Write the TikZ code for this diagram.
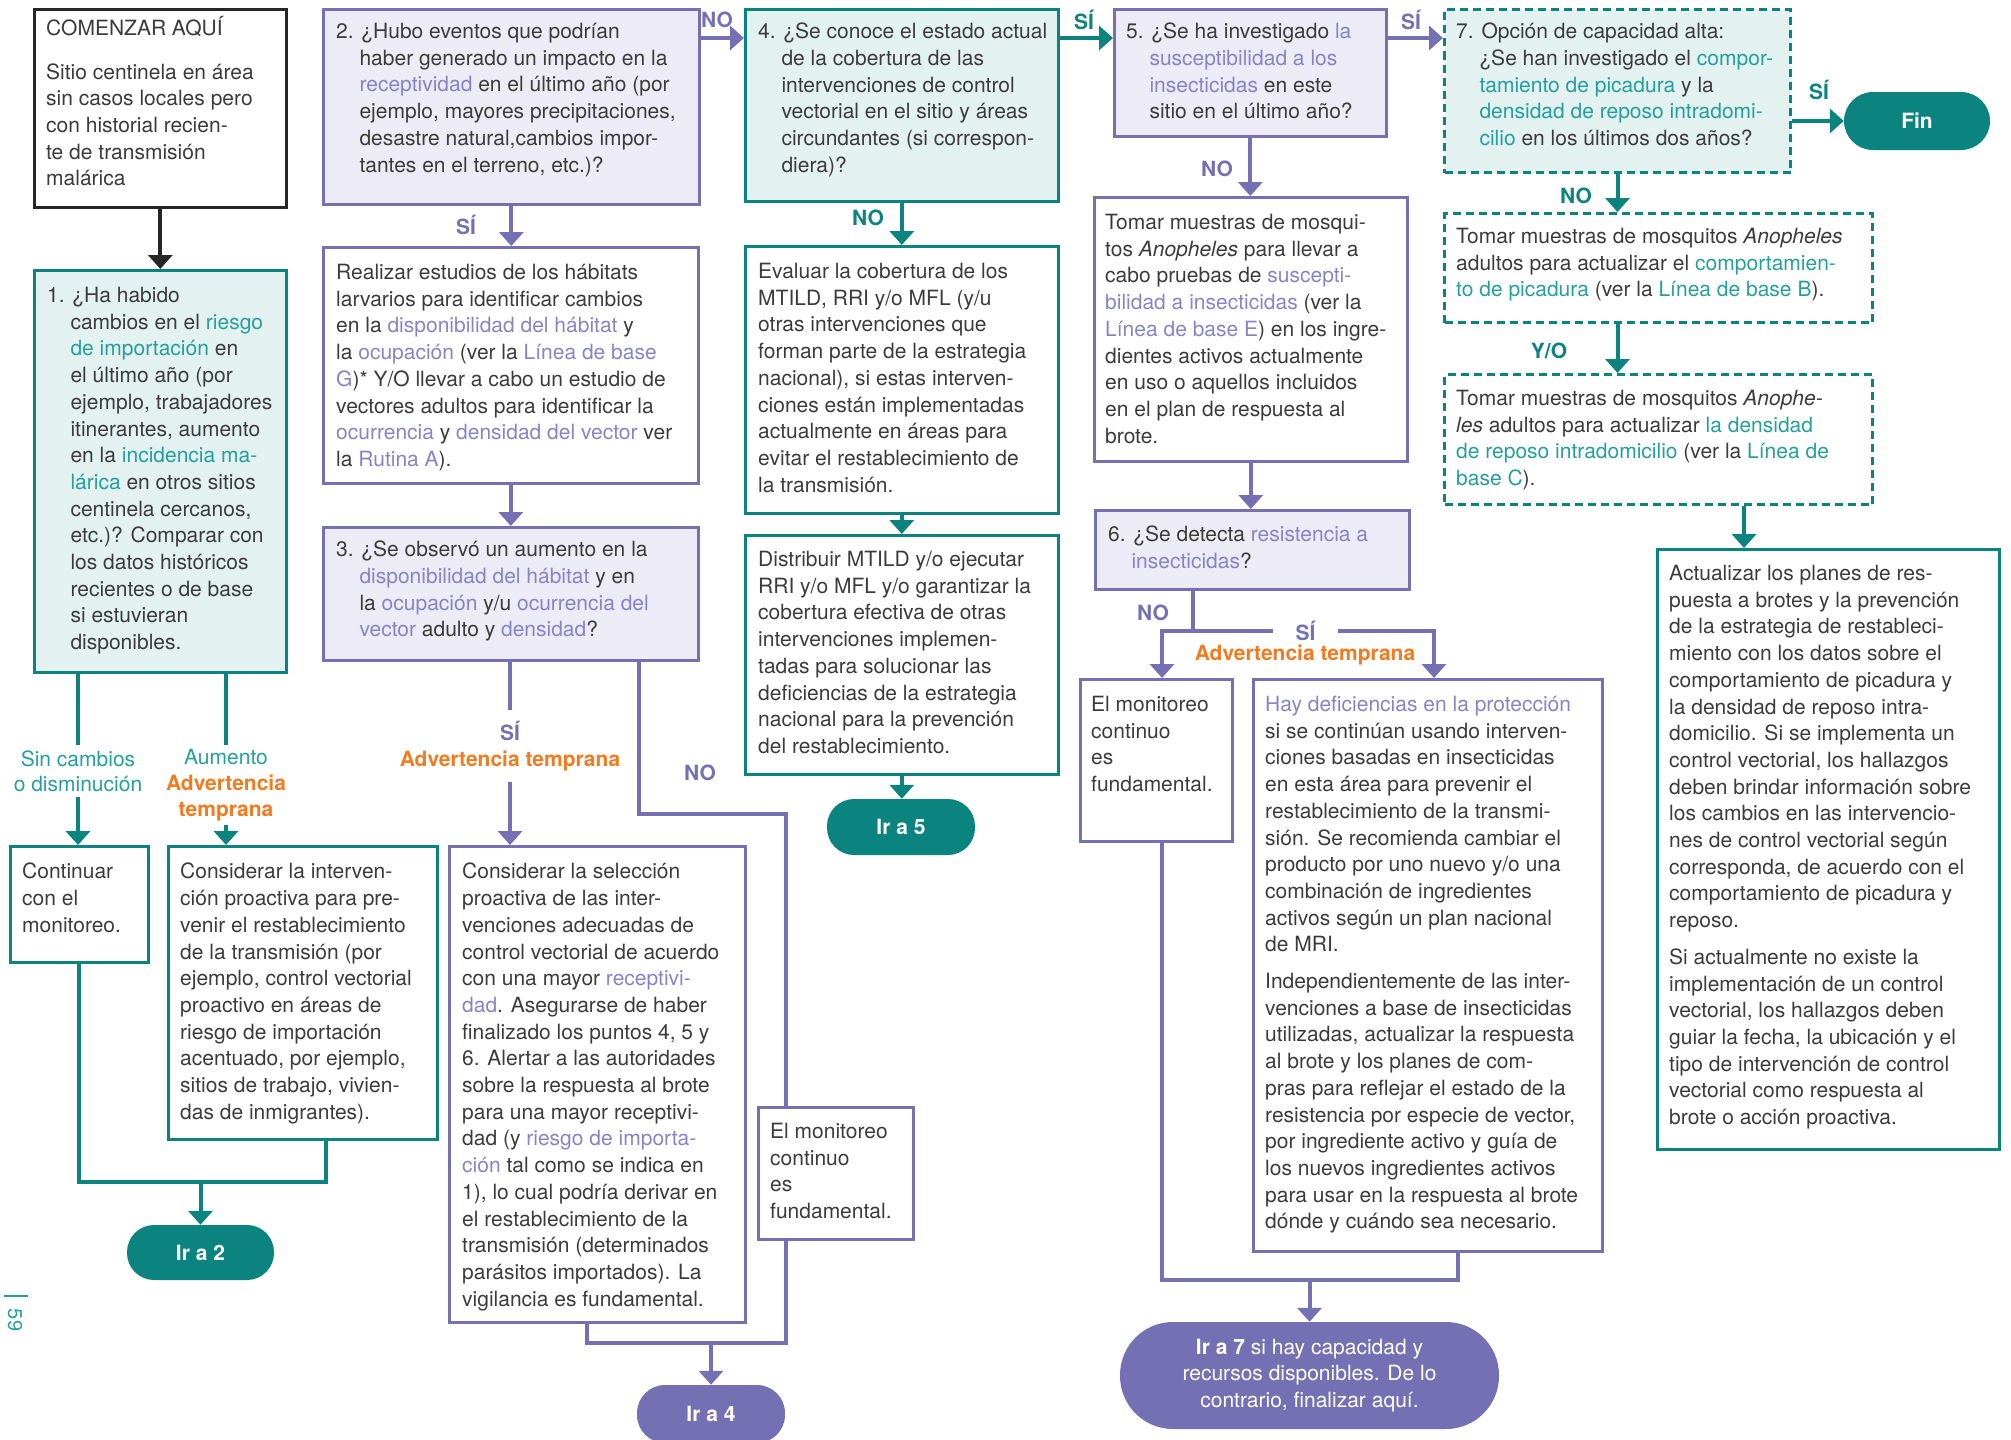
\documentclass[tikz,border=0pt]{standalone}
\usepackage{fontspec}
\setmainfont{TeX Gyre Heros}
\usetikzlibrary{arrows.meta}
\definecolor{tealc}{HTML}{0B8480}
\definecolor{tealt}{HTML}{24A09C}
\definecolor{tealfill}{HTML}{E3F1F1}
\definecolor{purc}{HTML}{7470B3}
\definecolor{purt}{HTML}{8783C6}
\definecolor{purfill}{HTML}{ECEBF6}
\definecolor{orangec}{HTML}{F37A1F}
\definecolor{txt}{HTML}{3B3B3B}
\newcommand\lkp[1]{\textcolor{purt}{#1}}
\newcommand\lkt[1]{\textcolor{tealt}{#1}}
\newcommand\qind[1]{\phantom{#1}\ }
\tikzset{
  bx/.style={draw, line width=2.6pt, anchor=north west, inner sep=0pt},
  tbx/.style={bx, draw=tealc},
  tfbx/.style={tbx, fill=tealfill},
  pbx/.style={bx, draw=purc},
  pfbx/.style={pbx, fill=purfill},
  dbx/.style={bx, draw=tealc, line width=3pt, dash pattern=on 8pt off 5pt},
  txtn/.style={anchor=north west, inner sep=0pt, align=left, text=txt, font=\fontsize{21}{26.7}\selectfont},
  lbl/.style={font=\bfseries\fontsize{21}{26}\selectfont, inner sep=1pt, align=center},
  lblp/.style={lbl, text=purc},
  lblt/.style={lbl, text=tealc},
  lblo/.style={lbl, text=orangec},
  con/.style={line width=4pt},
  tcon/.style={con, draw=tealc},
  pcon/.style={con, draw=purc},
  bcon/.style={con, draw=black!85},
  arr/.style={-{Triangle[width=24pt,length=14pt]}},
  pill/.style={fill=#1, draw=none, text=white, inner sep=0pt, align=center, font=\bfseries\fontsize{21}{26.7}\selectfont},
}
\begin{document}
\begin{tikzpicture}[x=1pt,y=-1pt]
\useasboundingbox (0,0) rectangle (2011,1440);
\clip (0,0) rectangle (2011,1440);

% ---------- boxes ----------
\node[bx, draw=black!85, fill=white, minimum width=252pt, minimum height=198pt] (start) at (33,8) {};
\node[tfbx, minimum width=252pt, minimum height=402pt] (b1) at (33,269) {};
\node[pfbx, minimum width=376pt, minimum height=195pt] (b2) at (322,8) {};
\node[pbx, minimum width=375pt, minimum height=236pt] (r) at (322,246) {};
\node[pfbx, minimum width=375pt, minimum height=133pt] (b3) at (322,526) {};
\node[tfbx, minimum width=313pt, minimum height=192pt] (b4) at (744,8) {};
\node[tbx, minimum width=313pt, minimum height=267pt] (ev) at (744,245) {};
\node[tbx, minimum width=313pt, minimum height=239pt] (di) at (744,534) {};
\node[pfbx, minimum width=272pt, minimum height=127pt] (b5) at (1113,8) {};
\node[pbx, minimum width=313pt, minimum height=264pt] (t5) at (1093,196) {};
\node[pfbx, minimum width=314pt, minimum height=79pt] (b6) at (1094,509) {};
\node[pbx, minimum width=152pt, minimum height=162pt] (m6) at (1079,678) {};
\node[pbx, minimum width=349pt, minimum height=572pt] (h) at (1252,678) {};
\node[dbx, fill=tealfill, minimum width=346pt, minimum height=163pt] (b7) at (1443,8) {};
\node[dbx, minimum width=428pt, minimum height=109pt] (tb) at (1443,212) {};
\node[dbx, minimum width=428pt, minimum height=130pt] (tc) at (1443,373) {};
\node[tbx, minimum width=342pt, minimum height=600pt] (a) at (1656,548) {};
\node[tbx, minimum width=138pt, minimum height=116pt] (cont) at (9,845) {};
\node[tbx, minimum width=269pt, minimum height=293pt] (ci) at (167,845) {};
\node[pbx, minimum width=296pt, minimum height=476pt] (cs) at (448,845) {};
\node[pbx, minimum width=155pt, minimum height=132pt] (m3) at (757,1106) {};

% ---------- pills ----------
\node[pill=tealc, rounded corners=27pt, minimum width=147pt, minimum height=55pt] (ir2) at (200.5,1252.5) {Ir a 2};
\node[pill=tealc, rounded corners=27pt, minimum width=148pt, minimum height=56pt] (ir5) at (901,827) {Ir a 5};
\node[pill=purc, rounded corners=28pt, minimum width=148pt, minimum height=58pt] (ir4) at (711,1414) {Ir a 4};
\node[pill=purc, rounded corners=53pt, minimum width=379pt, minimum height=107pt] (ir7) at (1309.5,1375.5)
  {Ir a 7 {\mdseries si hay capacidad y}\\{\mdseries recursos disponibles. De lo}\\{\mdseries contrario, finalizar aquí.}};
\node[pill=tealc, rounded corners=29pt, minimum width=146pt, minimum height=58pt] (fin) at (1917,121) {Fin};

% ---------- texts ----------
\node[txtn] (startt) at (46,16) {COMENZAR AQUÍ\\[17pt]
Sitio centinela en área\\
sin casos locales pero\\
con historial recien-\\
te de transmisión\\
malárica};

\node[txtn] (b1t) at (47,287) {1. ¿Ha habido\\
\qind{1.}cambios en el \lkt{riesgo}\\
\qind{1.}\lkt{de importación} en\\
\qind{1.}el último año (por\\
\qind{1.}ejemplo, trabajadores\\
\qind{1.}itinerantes, aumento\\
\qind{1.}en la \lkt{incidencia ma-}\\
\qind{1.}\lkt{lárica} en otros sitios\\
\qind{1.}centinela cercanos,\\
\qind{1.}etc.)? Comparar con\\
\qind{1.}los datos históricos\\
\qind{1.}recientes o de base\\
\qind{1.}si estuvieran\\
\qind{1.}disponibles.};

\node[txtn] (b2t) at (336,23) {2. ¿Hubo eventos que podrían\\
\qind{2.}haber generado un impacto en la\\
\qind{2.}\lkp{receptividad} en el último año (por\\
\qind{2.}ejemplo, mayores precipitaciones,\\
\qind{2.}desastre natural,cambios impor-\\
\qind{2.}tantes en el terreno, etc.)?};

\node[txtn] (rt) at (336,264) {Realizar estudios de los hábitats\\
larvarios para identificar cambios\\
en la \lkp{disponibilidad del hábitat} y\\
la \lkp{ocupación} (ver la \lkp{Línea de base}\\
\lkp{G})* Y/O llevar a cabo un estudio de\\
vectores adultos para identificar la\\
\lkp{ocurrencia} y \lkp{densidad del vector} ver\\
la \lkp{Rutina A}).};

\node[txtn] (b3t) at (336,541) {3. ¿Se observó un aumento en la\\
\qind{3.}\lkp{disponibilidad del hábitat} y en\\
\qind{3.}la \lkp{ocupación} y/u \lkp{ocurrencia del}\\
\qind{3.}\lkp{vector} adulto y \lkp{densidad}?};

\node[txtn] (b4t) at (758,23) {4. ¿Se conoce el estado actual\\
\qind{4.}de la cobertura de las\\
\qind{4.}intervenciones de control\\
\qind{4.}vectorial en el sitio y áreas\\
\qind{4.}circundantes (si correspon-\\
\qind{4.}diera)?};

\node[txtn] (evt) at (758,263) {Evaluar la cobertura de los\\
MTILD, RRI y/o MFL (y/u\\
otras intervenciones que\\
forman parte de la estrategia\\
nacional), si estas interven-\\
ciones están implementadas\\
actualmente en áreas para\\
evitar el restablecimiento de\\
la transmisión.};

\node[txtn] (dit) at (758,551) {Distribuir MTILD y/o ejecutar\\
RRI y/o MFL y/o garantizar la\\
cobertura efectiva de otras\\
intervenciones implemen-\\
tadas para solucionar las\\
deficiencias de la estrategia\\
nacional para la prevención\\
del restablecimiento.};

\node[txtn] (b5t) at (1126,23) {5. ¿Se ha investigado \lkp{la}\\
\qind{5.}\lkp{susceptibilidad a los}\\
\qind{5.}\lkp{insecticidas} en este\\
\qind{5.}sitio en el último año?};

\node[txtn] (t5t) at (1105,214) {Tomar muestras de mosqui-\\
tos \textit{Anopheles} para llevar a\\
cabo pruebas de \lkp{suscepti-}\\
\lkp{bilidad a insecticidas} (ver la\\
\lkp{Línea de base E}) en los ingre-\\
dientes activos actualmente\\
en uso o aquellos incluidos\\
en el plan de respuesta al\\
brote.};

\node[txtn] (b6t) at (1108,526) {6. ¿Se detecta \lkp{resistencia a}\\
\qind{6.}\lkp{insecticidas}?};

\node[txtn] (m6t) at (1091,696) {El monitoreo\\
continuo\\
es\\
fundamental.};

\node[txtn] (ht) at (1265,696) {\lkp{Hay deficiencias en la protección}\\
si se continúan usando interven-\\
ciones basadas en insecticidas\\
en esta área para prevenir el\\
restablecimiento de la transmi-\\
sión. Se recomienda cambiar el\\
producto por uno nuevo y/o una\\
combinación de ingredientes\\
activos según un plan nacional\\
de MRI.\\[10pt]
Independientemente de las inter-\\
venciones a base de insecticidas\\
utilizadas, actualizar la respuesta\\
al brote y los planes de com-\\
pras para reflejar el estado de la\\
resistencia por especie de vector,\\
por ingrediente activo y guía de\\
los nuevos ingredientes activos\\
para usar en la respuesta al brote\\
dónde y cuándo sea necesario.};

\node[txtn] (b7t) at (1456,23) {7. Opción de capacidad alta:\\
\qind{7.}¿Se han investigado el \lkt{compor-}\\
\qind{7.}\lkt{tamiento de picadura} y la\\
\qind{7.}\lkt{densidad de reposo intradomi-}\\
\qind{7.}\lkt{cilio} en los últimos dos años?};

\node[txtn] (tbt) at (1456,228) {Tomar muestras de mosquitos \textit{Anopheles}\\
adultos para actualizar el \lkt{comportamien-}\\
\lkt{to de picadura} (ver la \lkt{Línea de base B}).};

\node[txtn] (tct) at (1456,390) {Tomar muestras de mosquitos \textit{Anophe-}\\
\textit{les} adultos para actualizar \lkt{la densidad}\\
\lkt{de reposo intradomicilio} (ver la \lkt{Línea de}\\
\lkt{base C}).};

\node[txtn] (at) at (1669,565) {Actualizar los planes de res-\\
puesta a brotes y la prevención\\
de la estrategia de restableci-\\
miento con los datos sobre el\\
comportamiento de picadura y\\
la densidad de reposo intra-\\
domicilio. Si se implementa un\\
control vectorial, los hallazgos\\
deben brindar información sobre\\
los cambios en las intervencio-\\
nes de control vectorial según\\
corresponda, de acuerdo con el\\
comportamiento de picadura y\\
reposo.\\[10pt]
Si actualmente no existe la\\
implementación de un control\\
vectorial, los hallazgos deben\\
guiar la fecha, la ubicación y el\\
tipo de intervención de control\\
vectorial como respuesta al\\
brote o acción proactiva.};

\node[txtn] (contt) at (22,863) {Continuar\\
con el\\
monitoreo.};

\node[txtn] (cit) at (180,863) {Considerar la interven-\\
ción proactiva para pre-\\
venir el restablecimiento\\
de la transmisión (por\\
ejemplo, control vectorial\\
proactivo en áreas de\\
riesgo de importación\\
acentuado, por ejemplo,\\
sitios de trabajo, vivien-\\
das de inmigrantes).};

\node[txtn] (cst) at (462,863) {Considerar la selección\\
proactiva de las inter-\\
venciones adecuadas de\\
control vectorial de acuerdo\\
con una mayor \lkp{receptivi-}\\
\lkp{dad}. Asegurarse de haber\\
finalizado los puntos 4, 5 y\\
6. Alertar a las autoridades\\
sobre la respuesta al brote\\
para una mayor receptivi-\\
dad (y \lkp{riesgo de importa-}\\
\lkp{ción} tal como se indica en\\
1), lo cual podría derivar en\\
el restablecimiento de la\\
transmisión (determinados\\
parásitos importados). La\\
vigilancia es fundamental.};

\node[txtn] (m3t) at (770,1123) {El monitoreo\\
continuo\\
es\\
fundamental.};

% ---------- labels ----------
\node[lbl, text=tealt, font=\fontsize{21}{25}\selectfont, inner ysep=5pt] (l1a) at (78,771) {Sin cambios\\o disminución};
\node[lblo, inner ysep=4pt] (l1b) at (226,785) {{\mdseries\color{tealt}Aumento}\\Advertencia\\temprana};
\node[lblp, inner ysep=11pt] (lb3) at (510,746) {SÍ\\\textcolor{orangec}{Advertencia temprana}};
\node[lblp] (lsi2) at (466,225) {SÍ};
\node[lblp] (lno2) at (717,20) {NO};
\node[lblp] (lno3) at (700,773) {NO};
\node[lblt] (lsi4) at (1084,20) {SÍ};
\node[lblt] (lno4) at (868,218) {NO};
\node[lblp] (lsi5) at (1411,20) {SÍ};
\node[lblp] (lno5) at (1217,169) {NO};
\node[lblp, minimum width=65pt] (lsi6) at (1305.5,631) {SÍ};
\node[lblp] (lno6) at (1153,613) {NO};
\node[lblo] (ladv6) at (1305,655) {Advertencia temprana};
\node[lblt] (lsi7) at (1819,90) {SÍ};
\node[lblt] (lno7) at (1576,196) {NO};
\node[lblt] (lyo) at (1549,351) {Y/O};

% ---------- coordinates ----------
\coordinate (y38) at (0,38);
\coordinate (xr) at (226,0);
\coordinate (m1) at (200.5,1182);
\coordinate (x326) at (326,0);
\coordinate (n3a) at (639,814);
\coordinate (n3b) at (786,814);
\coordinate (n3c) at (786,1343);
\coordinate (n3d) at (587,1343);
\coordinate (m4) at (711,1343);
\coordinate (s6) at (1193,631);
\coordinate (x1162) at (1162,0);
\coordinate (x1434) at (1434,0);
\coordinate (n6a) at (1162,1280);
\coordinate (n6b) at (1458,1280);
\coordinate (m7) at (1309.5,1280);
\coordinate (x1744) at (1744,0);
\coordinate (pn1) at (4,1296);
\coordinate (pn2) at (28,1296);

% ---------- connectors ----------
\draw[bcon,arr] (start.south) -- (b1.north);
\draw[tcon] (b1.south -| l1a) -- (l1a);
\draw[tcon,arr] (l1a) -- (cont.north -| l1a);
\draw[tcon] (b1.south -| xr) -- (l1b);
\draw[tcon,arr] (l1b) -- (ci.north -| xr);
\draw[tcon] (cont.south) |- (m1) -| (ci.south -| x326);
\draw[tcon,arr] (m1) -- (ir2.north);

\draw[pcon,arr] (b2.east |- y38) -- (b4.west |- y38);
\draw[pcon,arr] (b2.south) -- (r.north -| b2.south);
\draw[pcon,arr] (r.south) -- (b3.north -| r.south);
\draw[pcon] (b3.south -| lb3) -- (lb3);
\draw[pcon,arr] (lb3) -- (cs.north -| lb3);
\draw[pcon] (b3.south -| n3a) -- (n3a) -- (n3b) -- (m3.north -| n3b);
\draw[pcon] (m3.south -| n3c) -- (n3c) -- (n3d) -- (cs.south -| n3d);
\draw[pcon,arr] (m4) -- (ir4.north);

\draw[tcon,arr] (b4.east |- y38) -- (b5.west |- y38);
\draw[tcon,arr] (b4.south) -- (ev.north -| b4.south);
\draw[tcon,arr] (ev.south) -- (di.north);
\draw[tcon,arr] (di.south) -- (ir5.north -| di.south);

\draw[pcon,arr] (b5.east |- y38) -- (b7.west |- y38);
\draw[pcon,arr] (b5.south) -- (t5.north -| b5.south);
\draw[pcon,arr] (t5.south) -- (b6.north -| t5.south);
\draw[pcon] (b6.south -| s6) -- (s6);
\draw[pcon,arr] (s6) -| (m6.north -| x1162);
\draw[pcon] (s6) -- (lsi6);
\draw[pcon,arr] (lsi6) -| (h.north -| x1434);
\draw[pcon] (m6.south -| n6a) -- (n6a) -- (n6b) -- (h.south -| n6b);
\draw[pcon,arr] (m7) -- (ir7.north);

\draw[tcon,arr] (b7.east |- fin) -- (fin.west);
\draw[tcon,arr] (b7.south) -- (tb.north -| b7.south);
\draw[tcon,arr] (tb.south -| b7.south) -- (tc.north -| b7.south);
\draw[tcon,arr] (tc.south -| x1744) -- (a.north -| x1744);

% ---------- page number ----------
\draw[tealt, line width=1.5pt] (pn1) -- (pn2);
\node[rotate=-90, text=tealt, font=\fontsize{20}{24}\selectfont, inner sep=0pt] (pnum) at (15,1320) {59};
\end{tikzpicture}
\end{document}
